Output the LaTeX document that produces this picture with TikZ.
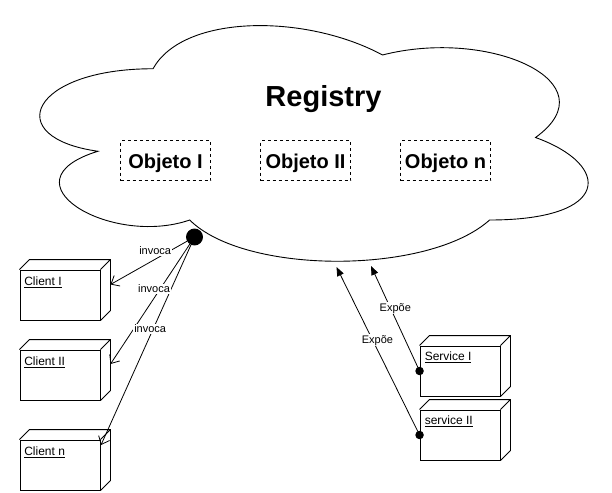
\documentclass[tikz,border=0pt]{standalone}
\usepackage{fontspec}
\setmainfont{Liberation Sans}
\usetikzlibrary{arrows.meta,calc}
\begin{document}
\begin{tikzpicture}[x=1pt,y=-1pt,line width=0.9pt,
  cloudline/.style={draw=black,fill=white,line width=0.9pt},
  titletext/.style={font=\bfseries\fontsize{29}{34}\selectfont,anchor=base,inner sep=0pt},
  objbox/.style={draw,dash pattern=on 3pt off 3pt,line width=0.8pt,minimum width=90pt,minimum height=40pt,
    inner sep=0pt,text height=17pt,text depth=2pt,font=\bfseries\fontsize{20}{24}\selectfont},
  umlbox/.style={draw,fill=white,minimum width=80pt,minimum height=50pt,inner sep=0pt},
  utext/.style={anchor=base west,inner sep=0pt,font=\fontsize{12}{14}\selectfont},
  bigdot/.style={circle,fill=black,draw=black,minimum size=16pt,inner sep=0pt},
  smalldot/.style={circle,fill=black,draw=black,minimum size=7.5pt,inner sep=0pt},
  lbl/.style={fill=white,inner sep=1pt,font=\fontsize{11}{13}\selectfont},
  invarrow/.style={-{Straight Barb[length=7pt,width=12pt]},line width=0.8pt},
  exparrow/.style={-{Triangle[length=9pt,width=7pt]},line width=0.8pt}]
\useasboundingbox (0,0) rectangle (612,492);
% cloud
\draw[cloudline] (153,68.75) .. controls (30.6,68.75) and (0,137.5) .. (97.92,151.25)
  .. controls (0,181.5) and (110.16,247.5) .. (189.72,220)
  .. controls (244.8,275) and (428.4,275) .. (489.6,220)
  .. controls (612,220) and (612,165) .. (535.5,137.5)
  .. controls (612,82.5) and (489.6,27.5) .. (382.5,55)
  .. controls (306,13.75) and (183.6,13.75) .. (153,68.75) -- cycle;
\node[titletext] (reg) at (323.5,106.7) {Registry};
\node[objbox] (o1) at (165.5,160.5) {Objeto I};
\node[objbox] (o2) at (305.5,160.5) {Objeto II};
\node[objbox] (o3) at (445.5,160.5) {Objeto n};
% uml nodes
\node[umlbox] (c1) at (60,295) {};
\node[umlbox] (c2) at (60,375) {};
\node[umlbox] (c3) at (60,465) {};
\node[umlbox] (s1) at (460,371) {};
\node[umlbox] (s2) at (460,435) {};
\foreach \n in {c1,c2,c3,s1,s2}{
  \draw (\n.north west) -- ++(10,-10) -| ($(\n.south east)+(10,-10)$) -- (\n.south east)
        (\n.north east) -- ++(10,-10);
}
\node[utext] (c1t) at ($(c1.north west)+(4.3,15.7)$) {\underline{Client I}};
\node[utext] (c2t) at ($(c2.north west)+(4.3,15.7)$) {\underline{Client II}};
\node[utext] (c3t) at ($(c3.north west)+(4.3,15.7)$) {\underline{Client n}};
\node[utext] (s1t) at ($(s1.north west)+(4.8,15)$) {\underline{Service I}};
\node[utext] (s2t) at ($(s2.north west)+(4.8,15)$) {\underline{service II}};
% dots
\node[bigdot] (hub) at (194.5,237) {};
\node[smalldot] (d1) at (s1.west) {};
\node[smalldot] (d2) at (s2.west) {};
% free ends
\coordinate (t1) at (110.5,284.5);
\coordinate (t2) at (110.5,364);
\coordinate (t3) at (101,445);
\coordinate (e1) at (371,266);
\coordinate (e2) at (336.5,267);
% connectors
\draw[invarrow] (hub) -- (t1);
\draw[invarrow] (hub) -- (t2);
\draw[invarrow] (hub) -- (t3);
\draw[exparrow] (d1.center) -- (e1);
\draw[exparrow] (d2.center) -- (e2);
% labels
\node[lbl] (l1) at (155.2,250.5) {invoca};
\node[lbl] (l2) at (154,288.7) {invoca};
\node[lbl] (l3) at (150.2,329) {invoca};
\node[lbl] (x1) at (395.3,308.3) {Expõe};
\node[lbl] (x2) at (377.5,340.2) {Expõe};
\end{tikzpicture}
\end{document}
